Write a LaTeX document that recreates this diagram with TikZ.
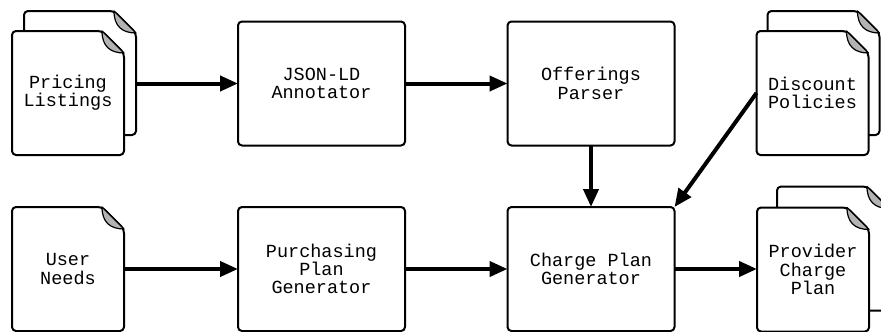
\documentclass[tikz,border=0pt]{standalone}
\usepackage{fontspec}
\newfontfamily\diafont{Liberation Mono}
\usetikzlibrary{arrows.meta,backgrounds}
\definecolor{foldgray}{HTML}{B3B3B3}
\tikzset{
  lbl/.style={font=\diafont\fontsize{18.5}{18.3}\selectfont, align=center},
  procbox/.style={lbl, draw, line width=2pt, rounded corners=4pt, minimum width=167pt,
    minimum height=124pt, outer sep=0pt, inner sep=0pt, fill=white},
  docnode/.style={lbl, minimum width=112pt, minimum height=124pt, outer sep=0pt, inner sep=0pt},
  docline/.style={draw, line width=2pt, rounded corners=4pt, fill=white, line join=round},
  flap/.style={fill=foldgray, draw, line width=1.2pt, line join=round},
  flow/.style={line width=4pt, -{Triangle[length=18pt,width=15pt]}},
}
\newcommand\docshape[1]{%
  \path[docline] (#1.west) -- (#1.north west) -- ([xshift=-22pt]#1.north east)
    -- ([yshift=-22pt]#1.north east) -- (#1.south east) -- (#1.south west) -- cycle;
  \path[flap] ([xshift=-22pt]#1.north east)
    .. controls ([xshift=-22pt,yshift=-15pt]#1.north east) and ([xshift=-14pt,yshift=-22pt]#1.north east)
    .. ([yshift=-22pt]#1.north east) -- cycle;
}
\begin{document}
\begin{tikzpicture}[x=1pt,y=-1pt]
\useasboundingbox (0,0) rectangle (881,332);
% document nodes
\node[docnode] (plb) at (80,73) {};
\node[docnode] (pl) at (68,93) {Pricing\\Listings};
\node[docnode] (dpb) at (823.5,73) {};
\node[docnode] (dp) at (812.5,93) {Discount\\Policies};
\node[docnode] (un) at (68,269) {User\\Needs};
\node[docnode] (pcb) at (833,248.5) {};
\node[docnode] (pc) at (813,269.5) {Provider\\Charge\\Plan};
% process boxes
\node[procbox] (json) at (321.5,83.5) {JSON-LD\\Annotator};
\node[procbox] (op) at (591,83.5) {Offerings\\Parser};
\node[procbox] (ppg) at (321.5,269) {Purchasing\\Plan\\Generator};
\node[procbox] (cpg) at (591,269) {Charge Plan\\Generator};
% document outlines
\begin{pgfonlayer}{background}
\begin{scope}
\clip (0,0) rectangle (881,332);
\docshape{plb}
\docshape{pl}
\docshape{dpb}
\docshape{dp}
\docshape{un}
\docshape{pcb}
\docshape{pc}
\end{scope}
\end{pgfonlayer}
% connectors
\draw[flow] (json.west -| plb.east) -- (json.west);
\draw[flow] (json.east) -- (op.west);
\draw[flow] (op.south) -- (cpg.north);
\draw[flow] (dp.west) -- (cpg.north east);
\draw[flow] (un.east) -- (ppg.west);
\draw[flow] (ppg.east) -- (cpg.west);
\draw[flow] (cpg.east) -- (pc.west |- cpg.east);
\end{tikzpicture}
\end{document}
